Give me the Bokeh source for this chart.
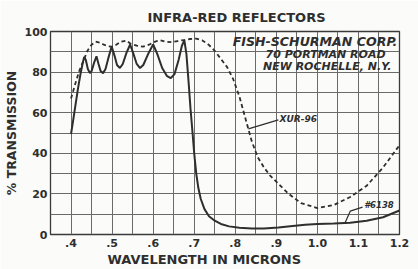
from bokeh.plotting import figure
from bokeh.models import FixedTicker, Label, Range1d, Title
from bokeh.embed import file_html
from bokeh.resources import INLINE
import numpy as np

# ---------------- data ----------------
xur96_x = [0.400, 0.410, 0.420, 0.430, 0.440, 0.450, 0.460, 0.470, 0.480, 0.490,
           0.500, 0.510, 0.522, 0.535, 0.545, 0.560, 0.575, 0.590, 0.605, 0.616,
           0.630, 0.645, 0.660, 0.675, 0.690, 0.705, 0.720, 0.735, 0.750, 0.765,
           0.780, 0.795, 0.810, 0.825, 0.840, 0.855, 0.870, 0.885, 0.900, 0.930,
           0.960, 1.000, 1.040, 1.080, 1.120, 1.160, 1.200]
xur96_y = [67.0, 74.0, 80.5, 85.5, 90.5, 93.5, 95.0, 94.5, 93.5, 92.7,
           92.5, 93.5, 95.0, 95.5, 94.0, 93.0, 92.5, 93.5, 95.0, 95.8,
           95.0, 94.8, 95.3, 95.8, 96.3, 96.5, 95.6, 93.5, 90.5, 86.5,
           82.5, 76.5, 68.0, 57.0, 46.0, 38.0, 33.0, 29.0, 26.0, 20.0,
           15.5, 13.0, 14.5, 18.5, 24.0, 33.0, 44.0]

f6138_x = [0.400, 0.405, 0.411, 0.417, 0.423, 0.428, 0.432, 0.436, 0.441, 0.446,
           0.450, 0.456, 0.462, 0.467, 0.472, 0.478, 0.484, 0.491, 0.499, 0.506,
           0.512, 0.519, 0.526, 0.535, 0.544, 0.552, 0.560, 0.568, 0.576, 0.588,
           0.600, 0.610, 0.622, 0.634, 0.643, 0.652, 0.662, 0.670, 0.676, 0.681,
           0.686, 0.691, 0.696, 0.700, 0.705, 0.710, 0.716, 0.725, 0.736, 0.750,
           0.765, 0.785, 0.810, 0.840, 0.870, 0.905, 0.940, 0.970, 1.000, 1.040,
           1.080, 1.120, 1.160, 1.200]
f6138_y = [49.5, 56.0, 64.0, 72.0, 79.0, 84.0, 87.5, 86.0, 81.5, 79.5,
           80.5, 84.5, 87.8, 84.0, 80.5, 79.5, 81.5, 87.0, 92.6, 88.0,
           83.5, 82.0, 84.0, 89.5, 93.6, 89.0, 84.0, 82.0, 83.5, 89.0,
           93.6, 89.0, 82.0, 78.0, 77.0, 79.0, 86.0, 93.0, 95.6, 89.0,
           76.0, 62.0, 50.0, 40.0, 30.0, 23.0, 17.5, 12.5, 9.0, 6.8,
           5.2, 4.0, 3.3, 3.0, 3.0, 3.4, 4.2, 4.8, 5.2, 5.4,
           5.8, 6.8, 8.5, 11.8]

x_ticks = [0.4, 0.5, 0.6, 0.7, 0.8, 0.9, 1.0, 1.1, 1.2]
x_tick_labels = [".4", ".5", ".6", ".7", ".8", ".9", "1.0", "1.1", "1.2"]
y_ticks = [0, 20, 40, 60, 80, 100]
y_tick_labels = ["0", "20", "40", "60", "80", "100"]

title_text = "INFRA-RED REFLECTORS"
x_title = "WAVELENGTH IN MICRONS"
y_title = "% TRANSMISSION"
company = ["FISH-SCHURMAN CORP.", "70 PORTMAN ROAD", "NEW ROCHELLE, N.Y."]
series_names = ["XUR-96", "#6138"]

# leader lines of the curve labels
xur_leader_x = [0.832, 0.905]
xur_leader_y = [52.0, 56.5]
f_leader_x = [1.068, 1.080, 1.110]
f_leader_y = [6.0, 11.5, 13.5]

# ---------------- figure ----------------
BG = "#fbfbf9"
INK = "#2e2e2e"
GRID = "#6a6a6a"
FONT = "DejaVu Sans"

p = figure(width=418, height=269,
           x_range=Range1d(0.35, 1.2), y_range=Range1d(0, 100),
           output_backend="svg", toolbar_location=None,
           min_border_left=45, min_border_right=19,
           min_border_top=30, min_border_bottom=35,
           background_fill_color=BG, border_fill_color=BG)

p.title.text = title_text
p.title.align = "left"
p.title.offset = 97
p.title.text_font = FONT
p.title.text_font_style = "bold"
p.title.text_font_size = "13px"
p.title.text_color = INK
p.title.standoff = 14

p.outline_line_color = "#3a3a3a"
p.outline_line_width = 1.3

p.xgrid.ticker = FixedTicker(ticks=list(np.round(np.arange(0.35, 1.2001, 0.05), 3)))
p.ygrid.ticker = FixedTicker(ticks=list(range(0, 101, 10)))
for g in (p.xgrid, p.ygrid):
    g.grid_line_color = GRID
    g.grid_line_width = 1
    g.grid_line_alpha = 1.0

p.xaxis.ticker = FixedTicker(ticks=x_ticks)
p.xaxis.major_label_overrides = {t: l for t, l in zip(x_ticks, x_tick_labels)}
p.yaxis.ticker = FixedTicker(ticks=y_ticks)
p.yaxis.major_label_overrides = {t: l for t, l in zip(y_ticks, y_tick_labels)}
p.yaxis.axis_label = y_title
for ax in (p.xaxis, p.yaxis):
    ax.axis_line_color = None
    ax.major_tick_line_color = None
    ax.minor_tick_line_color = None
    ax.major_tick_out = 0
    ax.major_tick_in = 0
    ax.minor_tick_out = 0
    ax.minor_tick_in = 0
    ax.major_label_text_font = FONT
    ax.major_label_text_font_style = "bold"
    ax.major_label_text_font_size = "11px"
    ax.major_label_text_color = INK
    ax.axis_label_text_font = FONT
    ax.axis_label_text_font_style = "bold"
    ax.axis_label_text_font_size = "12.5px"
    ax.axis_label_text_color = INK
p.xaxis.major_label_standoff = 4
p.yaxis.major_label_standoff = 3
p.yaxis.axis_label_standoff = 3

# x-axis title as a below-title so it can sit left of centre like the original
p.add_layout(Title(text=x_title, align="left", offset=57, standoff=0,
                   text_font=FONT, text_font_style="bold", text_font_size="13px",
                   text_color=INK), "below")

# curves
p.line(f6138_x, f6138_y, line_color=INK, line_width=2.0)
p.line(xur96_x, xur96_y, line_color=INK, line_width=1.8, line_dash="4 3")

# leaders
p.line(xur_leader_x, xur_leader_y, line_color=INK, line_width=1.2)
p.line(f_leader_x, f_leader_y, line_color=INK, line_width=1.2)

def lab(x, y, text, size, style="bold italic", align="center", baseline="middle"):
    p.add_layout(Label(x=x, y=y, text=text, text_font=FONT,
                       text_font_size=size, text_font_style=style,
                       text_color=INK, text_align=align, text_baseline=baseline))

lab(0.994, 95.1, company[0], "12.6px")
lab(1.020, 88.7, company[1], "11px")
lab(1.024, 82.8, company[2], "11px")

lab(0.908, 56.9, series_names[0], "9px", align="left")
lab(1.114, 14.7, series_names[1], "8.5px", align="left")

open("out.html", "w").write(file_html(p, INLINE))
